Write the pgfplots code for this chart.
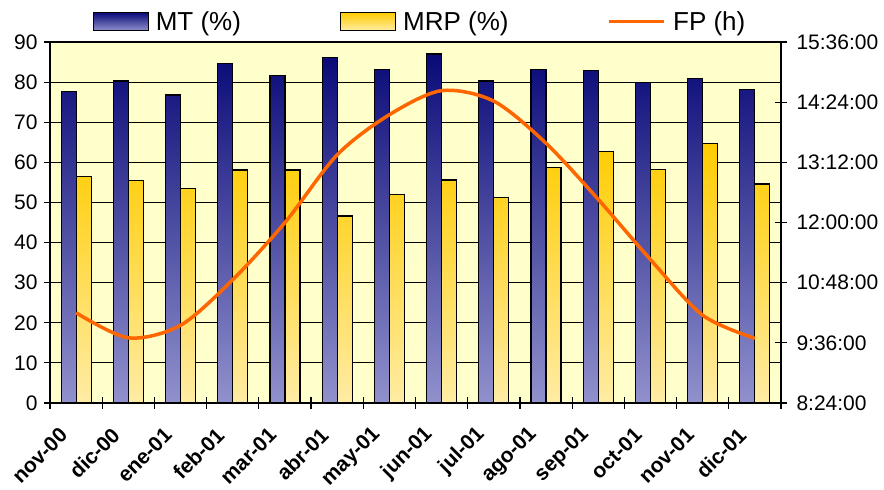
\documentclass[border=0pt]{standalone}
\usepackage{pgfplots}
\pgfplotsset{compat=1.18}
\usepackage{fontspec}
\setmainfont{Liberation Sans}

\definecolor{bgyel}{RGB}{255,255,204}
\definecolor{mttop}{RGB}{10,10,120}
\definecolor{mtbot}{RGB}{145,145,205}
\definecolor{mrptop}{RGB}{255,204,0}
\definecolor{mrpbot}{RGB}{255,236,165}
\definecolor{fpc}{RGB}{255,102,0}

\pgfplotsset{
  mtleg/.style={legend image code/.code={\draw[black, line width=1.2pt, top color=mttop, bottom color=mtbot] (0pt,-9pt) rectangle (55pt,9pt);}},
  mrpleg/.style={legend image code/.code={\draw[black, line width=1.2pt, top color=mrptop, bottom color=mrpbot] (0pt,-9pt) rectangle (55pt,9pt);}},
  fpleg/.style={legend image code/.code={\draw[fpc, line width=3.5pt] (0pt,0pt) -- (55pt,0pt);}},
}

\begin{document}
\begin{tikzpicture}
\path[use as bounding box] (-50pt,-87pt) rectangle (834pt,403pt);

% left axis: bars
\begin{axis}[
  at={(0,0)}, anchor=south west,
  width=731pt, height=361pt, scale only axis,
  xmin=-0.5, xmax=13.5, ymin=0, ymax=90,
  ybar=0pt, bar width=15pt,
  axis background/.style={fill=bgyel},
  axis line style={line width=1.2pt},
  ymajorgrids, grid style={black, line width=1pt},
  tick align=center, major tick length=12pt, minor tick length=12pt,
  tick style={black, line width=1.2pt},
  major x tick style={draw=none},
  xtick pos=left, ytick pos=left,
  ytick={0,10,20,30,40,50,60,70,80,90},
  yticklabels={0,10,20,30,40,50,60,70,80,90},
  yticklabel style={font=\fontsize{21}{25}\selectfont, xshift=-3pt},
  xtick={0,1,2,3,4,5,6,7,8,9,10,11,12,13},
  xticklabels={nov-00,dic-00,ene-01,feb-01,mar-01,abr-01,may-01,jun-01,jul-01,ago-01,sep-01,oct-01,nov-01,dic-01},
  minor xtick={-0.5,0.5,...,13.5},
  xticklabel style={font=\bfseries\fontsize{21}{25}\selectfont, xshift=-10pt, yshift=-20pt, rotate=45, anchor=east},
]
\addplot[draw=black, line width=1.2pt, top color=mttop, bottom color=mtbot] coordinates {
  (0,77.6) (1,80.3) (2,76.8) (3,84.6) (4,81.6) (5,86.1) (6,83.2)
  (7,87.0) (8,80.3) (9,83.2) (10,82.9) (11,80.0) (12,81.0) (13,78.1)};
\addplot[draw=black, line width=1.2pt, top color=mrptop, bottom color=mrpbot] coordinates {
  (0,56.5) (1,55.4) (2,53.5) (3,58.1) (4,58.1) (5,46.6) (6,51.9)
  (7,55.6) (8,51.3) (9,58.8) (10,62.8) (11,58.3) (12,64.7) (13,54.6)};
\end{axis}

% right axis: FP (h)
\begin{axis}[
  at={(0,0)}, anchor=south west,
  width=731pt, height=361pt, scale only axis,
  xmin=-0.5, xmax=13.5, ymin=8.4, ymax=15.6,
  axis x line=none, axis y line*=right,
  axis line style={line width=1.2pt},
  tick align=center, major tick length=12pt,
  tick style={black, line width=1.2pt},
  ytick={8.4,9.6,10.8,12,13.2,14.4,15.6},
  yticklabels={8:24:00,9:36:00,10:48:00,12:00:00,13:12:00,14:24:00,15:36:00},
  yticklabel style={font=\fontsize{21}{25}\selectfont, xshift=6pt},
  legend columns=3,
  legend style={at={(0.5,1)}, anchor=south, xshift=7pt, yshift=8pt, draw=none, fill=none, inner sep=0pt,
    font=\fontsize{26}{30}\selectfont,
    nodes={inner xsep=7pt},
    /tikz/every even column/.append style={column sep=92pt}},
]
\addlegendimage{mtleg}\addlegendentry{MT (\%)}
\addlegendimage{mrpleg}\addlegendentry{MRP (\%)}
\addplot[fpc, line width=3.5pt, smooth, fpleg] coordinates {
  (0,10.20) (1,9.70) (2,9.95) (3,10.86) (4,12.00) (5,13.35) (6,14.15)
  (7,14.63) (8,14.42) (9,13.58) (10,12.46) (11,11.26) (12,10.15) (13,9.69)};
\addlegendentry{FP (h)}
\end{axis}
\end{tikzpicture}
\end{document}
